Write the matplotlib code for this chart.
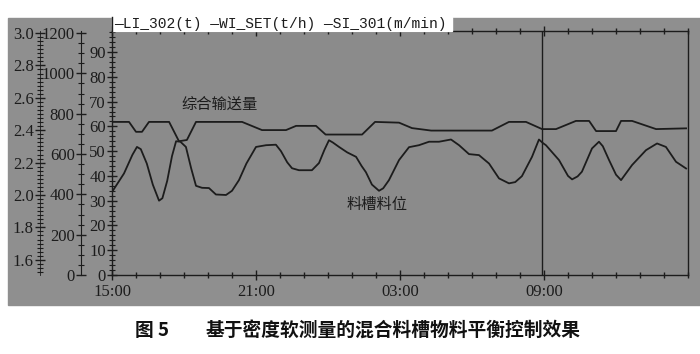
import numpy as np
import matplotlib.pyplot as plt
from matplotlib.ticker import MultipleLocator, FixedLocator
from matplotlib.patches import Rectangle
from matplotlib.lines import Line2D

W, H = 700, 354

def fx(px):
    return px / W

def fy(py):
    return 1 - py / H

# time in hours after 15:00
feed_t = [0, 0.71, 1.0, 1.25, 1.54, 2.38, 2.79, 3.12, 3.5, 5.42, 6.25, 7.25, 7.67, 8.5,
          8.9, 10.42, 10.96, 11.96, 12.5, 13.3, 15.83, 16.54, 17.25, 17.92, 18.5, 19.33,
          19.88, 20.17, 21.0, 21.21, 21.67, 22.67, 23.92]
feed_v = [61.8, 61.8, 57.8, 57.8, 61.8, 61.8, 54.0, 54.5, 61.8, 61.8, 58.5, 58.5, 60.2, 60.2,
          56.7, 56.7, 61.8, 61.5, 59.3, 58.3, 58.3, 61.8, 61.8, 58.9, 58.9, 62.2,
          62.2, 58.1, 58.1, 62.2, 62.2, 58.9, 59.2]

level_t = [0, 0.5, 0.85, 1.04, 1.2, 1.45, 1.7, 1.96, 2.1, 2.3, 2.5, 2.67, 2.85, 3.08,
           3.3, 3.5, 3.75, 4.04, 4.33, 4.75, 5.0, 5.29, 5.6, 6.0, 6.42, 6.83, 7.04, 7.3,
           7.5, 7.79, 8.33, 8.625, 8.85, 9.04, 9.2, 9.46, 9.8, 10.17, 10.4, 10.58, 10.83,
           11.125, 11.3, 11.54, 11.96, 12.375, 12.79, 13.21, 13.625, 14.125, 14.46, 14.875,
           15.29, 15.71, 16.125, 16.54, 16.8, 17.08, 17.5, 17.79, 17.95, 18.08, 18.625, 19.0,
           19.17, 19.4, 19.58, 20.0, 20.29, 20.45, 20.71, 21.0, 21.21, 21.67, 22.25, 22.71,
           23.08, 23.5, 23.92]
level_v = [33.5, 41, 48.5, 51.7, 50.8, 45, 36.5, 30.0, 31, 38, 48, 54.0, 53.8, 51.7,
           43, 36, 35.2, 35.1, 32.5, 32.3, 34.0, 38.3, 45, 51.7, 52.4, 52.6, 50, 45.5,
           43.1, 42.3, 42.3, 45.2, 50.5, 54.4, 53.5, 51.7, 49.5, 47.7, 44, 41.5, 36.5,
           34.0, 35, 38.3, 46.4, 51.6, 52.4, 53.8, 53.8, 54.7, 52.4, 48.8,
           48.4, 45.0, 39.0, 37.0, 37.5, 39.9, 47.7, 54.7, 53.3, 52.4, 46.4, 40,
           38.6, 39.8, 41.7, 51.1, 53.8, 52, 46.4, 40.5, 38.3, 44.4, 50.4, 53.1,
           51.7, 45.7, 43.0]

cursor_t = 17.92
xticks = [0, 6, 12, 18]
xlabels = ['15:00', '21:00', '03:00', '09:00']
ax2_ticks = [0, 200, 400, 600, 800, 1000, 1200]
ax3_ticks = [1.6, 1.8, 2.0, 2.2, 2.4, 2.6, 2.8, 3.0]

ink = '#1c1c1c'
num_font = dict(family='Liberation Serif', size=12)
cjk = ['Noto Sans CJK SC', 'DejaVu Sans']

fig = plt.figure(figsize=(7, 3.54), dpi=100)
fig.patch.set_facecolor('white')
fig.add_artist(Rectangle((fx(8), fy(305)), fx(692), 287 / H, transform=fig.transFigure,
                         color='#8f8f8f', zorder=-10))

ax = fig.add_axes([fx(112), fy(275), fx(688) - fx(112), fy(31) - fy(275)])
ax.set_facecolor('#8b8b8b')
ax.plot(feed_t, feed_v, color=ink, lw=1.3)
ax.plot(level_t, level_v, color=ink, lw=1.3)
ax.axvline(cursor_t, color=ink, lw=1.0)
ax.set_xlim(0, 24)
ax.set_ylim(0, 98.5)
for s in ax.spines.values():
    s.set_color(ink)
    s.set_linewidth(1.0)

ax.xaxis.set_major_locator(FixedLocator(xticks))
ax.set_xticklabels(xlabels, fontdict=num_font, color=ink)
ax.xaxis.set_minor_locator(MultipleLocator(1))
ax.set_yticks(range(0, 100, 10))
ax.set_yticklabels([str(v) for v in range(0, 100, 10)], fontdict=num_font, color=ink)
ax.yaxis.set_minor_locator(MultipleLocator(2))
ax.tick_params(axis='x', which='major', direction='inout', length=7, width=1, color=ink, pad=3,
               top=True)
ax.tick_params(axis='x', which='minor', direction='inout', length=5, width=1, color=ink, top=True)
ax.tick_params(axis='y', which='major', direction='inout', length=7, width=1, color=ink, pad=1,
               right=True)
ax.tick_params(axis='y', which='minor', direction='inout', length=4, width=0.8, color=ink,
               right=True)

# second left axis 0-1200
ax2 = ax.twinx()
for s in ax2.spines.values():
    s.set_visible(False)
ax2.spines['left'].set_visible(True)
ax2.spines['left'].set_position(('axes', -31 / 576))
ax2.spines['left'].set_color(ink)
ax2.yaxis.set_ticks_position('left')
ax2.set_ylim(0, 1200 * 244 / 242)
ax2.set_yticks(ax2_ticks)
ax2.set_yticklabels([str(v) for v in ax2_ticks], fontdict=num_font, color=ink)
ax2.yaxis.set_minor_locator(MultipleLocator(50))
ax2.tick_params(axis='y', which='major', direction='inout', length=7, width=1, color=ink, pad=1)
ax2.tick_params(axis='y', which='minor', direction='inout', length=4, width=0.8, color=ink)

# third left axis 1.5-3.0
ax3 = ax.twinx()
for s in ax3.spines.values():
    s.set_visible(False)
ax3.spines['left'].set_visible(True)
ax3.spines['left'].set_position(('axes', -72 / 576))
ax3.spines['left'].set_color(ink)
ax3.spines['left'].set_linewidth(0.6)
ax3.yaxis.set_ticks_position('left')
ax3.set_ylim(2.0 - 80 / 162, 3.0 + 2 / 162)
ax3.set_yticks(ax3_ticks)
ax3.set_yticklabels(['%.1f' % v for v in ax3_ticks], fontdict=num_font, color=ink)
ax3.yaxis.set_minor_locator(MultipleLocator(0.025))
ax3.tick_params(axis='y', which='major', direction='inout', length=7, width=1, color=ink, pad=1)
ax3.tick_params(axis='y', which='minor', direction='inout', length=4, width=0.8, color=ink)

# legend strip at top
fig.add_artist(Rectangle((fx(112), fy(31)), fx(452) - fx(112), 14 / H, transform=fig.transFigure,
                         color='white', zorder=5))
fig.add_artist(Line2D([fx(112), fx(112)], [fy(31), fy(17)], transform=fig.transFigure,
                      color=ink, lw=1.0, zorder=6))
fig.text(fx(114), fy(24), '—LI_302(t) —WI_SET(t/h) —SI_301(m/min)', family='Liberation Mono',
         fontsize=10.5, color=ink, va='center', ha='left', zorder=7)

# annotations
fig.text(fx(220), fy(104), '综合输送量', family=cjk, fontsize=11, color=ink,
         ha='center', va='center')
fig.text(fx(377), fy(204), '料槽料位', family=cjk, fontsize=11, color=ink,
         ha='center', va='center')

# caption
fig.text(fx(135), fy(331), '图 5', family=cjk, fontsize=13.5, weight='bold',
         color='#111111', ha='left', va='center')
fig.text(fx(206), fy(331), '基于密度软测量的混合料槽物料平衡控制效果', family=cjk,
         fontsize=13.5, weight='bold', color='#111111', ha='left', va='center')

fig.savefig('out.png', dpi=100)
